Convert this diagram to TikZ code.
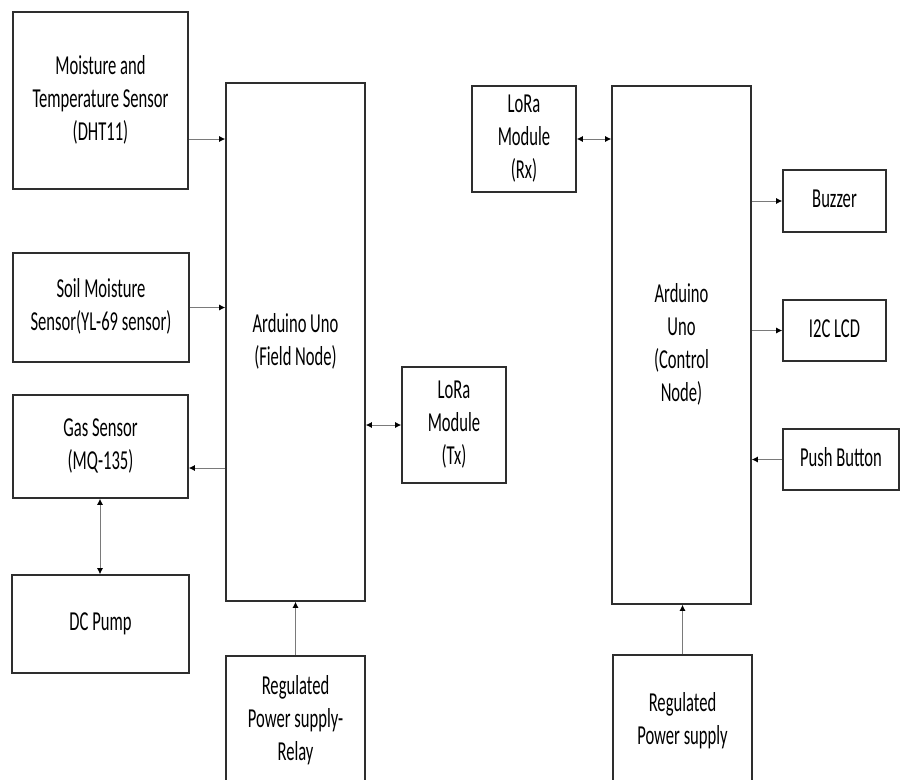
\documentclass[tikz,border=0pt]{standalone}
\usepackage{fontspec}
\setmainfont{Carlito}
\usetikzlibrary{arrows.meta,calc}
\definecolor{boxc}{HTML}{2E2E2E}
\definecolor{linec}{HTML}{7A7A7A}
\newcommand{\txt}[1]{\scalebox{1}[1.65]{\fontsize{16.6}{20}\selectfont\begin{tabular}{@{}c@{}}#1\end{tabular}}}
\begin{document}
\begin{tikzpicture}[x=1pt,y=-1pt,
  blk/.style={draw=boxc, line width=1.6pt, rectangle, inner sep=0pt, text=black},
  con/.style={draw=linec, line width=0.9pt, -{Latex[length=6pt,width=6pt,color=black]}},
  bicon/.style={draw=linec, line width=0.9pt, {Latex[length=6pt,width=6pt,color=black]}-{Latex[length=6pt,width=6pt,color=black]}}]
\clip (0,0) rectangle (901,779);
\fill[white] (0,0) rectangle (901,779);

% left side
\node[blk, minimum width=175pt, minimum height=177pt] (dht) at (100.5,100.5) {\txt{Moisture and\\Temperature Sensor\\(DHT11)}};
\node[blk, minimum width=176pt, minimum height=109pt] (soil) at (101,307.5) {\txt{Soil Moisture\\Sensor(YL-69 sensor)}};
\node[blk, minimum width=175pt, minimum height=103pt] (gas) at (100.5,446.5) {\txt{Gas Sensor\\(MQ-135)}};
\node[blk, minimum width=177pt, minimum height=98pt] (pump) at (100.5,624) {\txt{DC Pump}};
\node[blk, minimum width=139pt, minimum height=518pt] (ard1) at (295.5,342) {\txt{Arduino Uno\\(Field Node)}};
\node[blk, minimum width=139pt, minimum height=130pt] (pow1) at (295.5,721) {\txt{Regulated\\Power supply-\\Relay}};
\node[blk, minimum width=104pt, minimum height=116pt] (loratx) at (454,425) {\txt{LoRa\\Module\\(Tx)}};

% right side
\node[blk, minimum width=104pt, minimum height=106pt] (lorarx) at (524,139) {\txt{LoRa\\Module\\(Rx)}};
\node[blk, minimum width=139pt, minimum height=518pt] (ard2) at (681.5,345) {\txt{Arduino\\Uno\\(Control\\Node)}};
\node[blk, minimum width=103pt, minimum height=62pt] (buzzer) at (834.5,201) {\txt{Buzzer}};
\node[blk, minimum width=103pt, minimum height=61pt] (lcd) at (834.5,330.5) {\txt{I2C LCD}};
\node[blk, minimum width=116pt, minimum height=61pt] (push) at (841,459.5) {\txt{Push Button}};
\node[blk, minimum width=139pt, minimum height=132pt] (pow2) at (682.5,721) {\txt{Regulated\\Power supply}};

% connectors left
\coordinate (c1) at ([yshift=-38.5pt]dht.east);
\draw[con] (c1) -- (c1 -| ard1.west);
\draw[con] (soil.east) -- (soil.east -| ard1.west);
\coordinate (c2) at ([yshift=-21.5pt]gas.east);
\draw[con] (c2 -| ard1.west) -- (c2);
\draw[bicon] ([xshift=-0.5pt]gas.south) -- ([xshift=-0.5pt]pump.north);
\draw[bicon] (loratx.west -| ard1.east) -- (loratx.west);
\draw[con] (pow1.north) -- (ard1.south);

% connectors right
\draw[bicon] (lorarx.east) -- (lorarx.east -| ard2.west);
\draw[con] (buzzer.west -| ard2.east) -- (buzzer.west);
\draw[con] (lcd.west -| ard2.east) -- (lcd.west);
\draw[con] (push.west) -- (push.west -| ard2.east);
\draw[con] (pow2.north) -- (pow2.north |- ard2.south);
\end{tikzpicture}
\end{document}
